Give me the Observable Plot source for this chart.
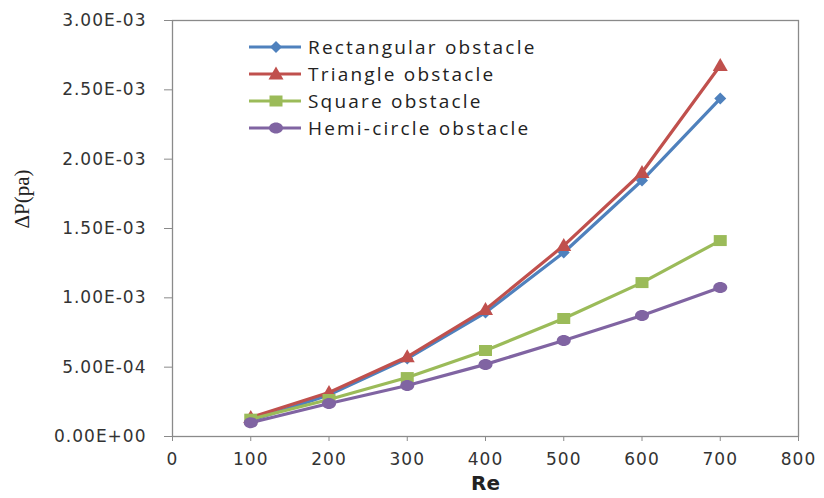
<!DOCTYPE html>
<html>
<head>
<meta charset="utf-8">
<script src="https://cdn.jsdelivr.net/npm/d3@7"></script>
<script src="https://cdn.jsdelivr.net/npm/@observablehq/plot@0.6"></script>
<style>
  html, body { margin: 0; padding: 0; background: #fff; }
  #wrap { position: relative; width: 824px; height: 498px; }
  #chart svg g[aria-label="y-axis tick label"] text,
  #chart svg g[aria-label="x-axis tick label"] text { letter-spacing: 1px; }
  #legend { position: absolute; left: 0; top: 0; font-family: "Open Sans", Lato, sans-serif; font-size: 19px; color: #222; letter-spacing: 2.2px; }
  #legend .row { position: absolute; left: 249px; height: 20px; display: flex; align-items: center; white-space: nowrap; }
  #legend svg { display: block; margin-right: 7px; }
</style>
</head>
<body>
<div id="wrap">
  <div id="chart"></div>
  <div id="legend"></div>
</div>
<script>
// Reynolds numbers and pressure drop (Pa) for each obstacle shape
const re = [100, 200, 300, 400, 500, 600, 700];
const rectangular = [0.000115, 0.000300, 0.000562, 0.000894, 0.001327, 0.001846, 0.002437];
const triangle    = [0.000137, 0.000317, 0.000575, 0.000916, 0.001377, 0.001904, 0.002675];
const square      = [0.000125, 0.000267, 0.000425, 0.000620, 0.000851, 0.001110, 0.001413];
const hemicircle  = [0.000100, 0.000238, 0.000368, 0.000520, 0.000692, 0.000873, 0.001075];

const seriesNames = ["Rectangular obstacle", "Triangle obstacle", "Square obstacle", "Hemi-circle obstacle"];
const seriesValues = [rectangular, triangle, square, hemicircle];
const seriesColors = ["#4F81BD", "#C0504D", "#9BBB59", "#8064A2"];

const yTicks = [0, 0.0005, 0.001, 0.0015, 0.002, 0.0025, 0.003];
const xTicks = [0, 100, 200, 300, 400, 500, 600, 700, 800];

// Marker shapes drawn as custom symbol paths
const diamond = {draw(c) { c.moveTo(0, -6); c.lineTo(6, 0); c.lineTo(0, 6); c.lineTo(-6, 0); c.closePath(); }};
const tri = {draw(c) { c.moveTo(0, -7.5); c.lineTo(7.5, 5.5); c.lineTo(-7.5, 5.5); c.closePath(); }};
const sq = {draw(c) { c.rect(-6.5, -5.5, 13, 11); }};
const ellipse = {draw(c) {
  const rx = 7, ry = 5.5, k = 0.5523;
  c.moveTo(rx, 0);
  c.bezierCurveTo(rx, ry * k, rx * k, ry, 0, ry);
  c.bezierCurveTo(-rx * k, ry, -rx, ry * k, -rx, 0);
  c.bezierCurveTo(-rx, -ry * k, -rx * k, -ry, 0, -ry);
  c.bezierCurveTo(rx * k, -ry, rx, -ry * k, rx, 0);
  c.closePath();
}};
const seriesSymbols = [diamond, tri, sq, ellipse];

// Excel-style scientific notation, e.g. 2.50E-03
function sci(d) {
  if (d === 0) return "0.00E+00";
  const [m, e] = d.toExponential(2).split("e");
  const n = Math.abs(+e);
  return m + "E" + (+e < 0 ? "-" : "+") + String(n).padStart(2, "0");
}

const marks = [
  Plot.frame({stroke: "#8a8a8a", strokeWidth: 1.3}),
  Plot.axisY({ticks: yTicks, tickFormat: sci, tickSize: 8, tickPadding: 18, label: null, stroke: "#8a8a8a", fill: "#333"}),
  Plot.axisX({ticks: xTicks, tickFormat: d => String(d), tickSize: 5, tickPadding: 11, label: null, stroke: "#8a8a8a", fill: "#333"}),
  Plot.text(["Re"], {frameAnchor: "bottom", dy: 53, fontWeight: "bold", fontSize: 20, fill: "#222", fontFamily: "DejaVu Sans"}),
  Plot.text(["ΔP(pa)"], {frameAnchor: "left", dx: -150, rotate: -90, fontSize: 21, fill: "#222", fontFamily: "Liberation Serif"})
];

seriesNames.forEach((name, i) => {
  const rows = re.map((x, j) => ({re: x, dp: seriesValues[i][j]}));
  marks.push(Plot.line(rows, {x: "re", y: "dp", stroke: seriesColors[i], strokeWidth: 3.2}));
  marks.push(Plot.dot(rows, {x: "re", y: "dp", fill: seriesColors[i], stroke: "none", symbol: seriesSymbols[i], r: 6}));
});

const chart = Plot.plot({
  width: 824,
  height: 498,
  marginLeft: 172,
  marginRight: 26,
  marginTop: 20,
  marginBottom: 62,
  style: {fontFamily: "DejaVu Sans", fontSize: "17px", background: "#fff", color: "#333"},
  x: {domain: [0, 800]},
  y: {domain: [0, 0.003]},
  marks
});
document.getElementById("chart").appendChild(chart);

// Legend inside the plot area, top-left
const legend = document.getElementById("legend");
seriesNames.forEach((name, i) => {
  const row = document.createElement("div");
  row.className = "row";
  row.style.top = (37 + 27 * i) + "px";
  const sw = d3.create("svg").attr("width", 52).attr("height", 20);
  sw.append("line").attr("x1", 0).attr("x2", 52).attr("y1", 10).attr("y2", 10)
    .attr("stroke", seriesColors[i]).attr("stroke-width", 3);
  const p = d3.path();
  seriesSymbols[i].draw(p, 36);
  sw.append("path").attr("d", p.toString()).attr("transform", "translate(27,10)").attr("fill", seriesColors[i]);
  row.appendChild(sw.node());
  const label = document.createElement("span");
  label.textContent = name;
  row.appendChild(label);
  legend.appendChild(row);
});
</script>
</body>
</html>
